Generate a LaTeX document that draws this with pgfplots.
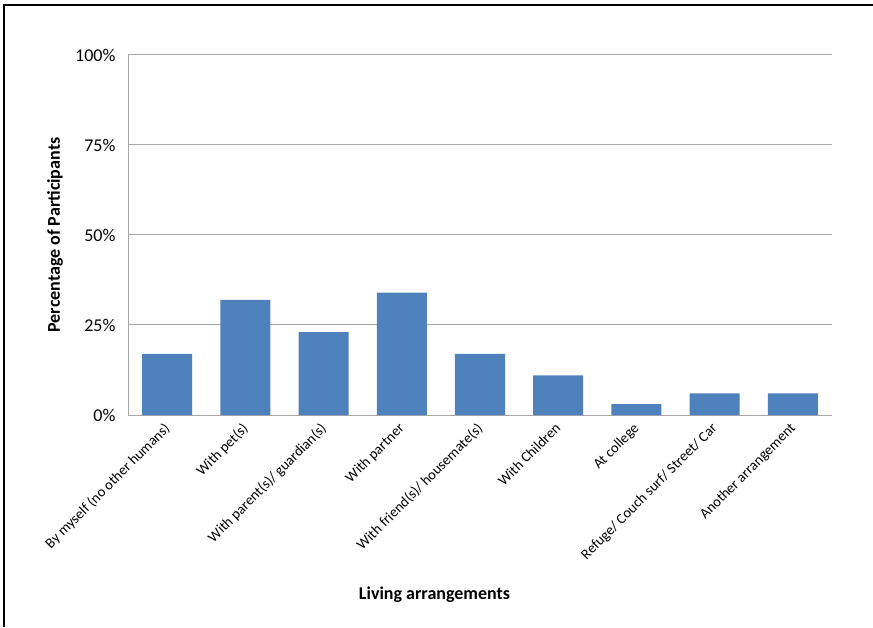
\documentclass[border=0pt]{standalone}
\usepackage{pgfplots}
\pgfplotsset{compat=1.18}
\usepackage{fontspec}
\setmainfont{Carlito}
\definecolor{barblue}{HTML}{4F81BD}
\definecolor{gridgray}{HTML}{A6A6A6}
\begin{document}
\begin{tikzpicture}
\path[use as bounding box] (0pt,0pt) rectangle (873pt,627pt);
\draw[line width=1.3pt, black] (4pt,0pt) -- (4pt,622pt) -- (873pt,622pt);
\begin{axis}[
  at={(128pt,212pt)}, anchor=south west,
  scale only axis, width=704pt, height=360pt,
  xmin=-0.5, xmax=8.5, ymin=0, ymax=100,
  axis x line*=bottom, axis y line*=left,
  axis line style={gridgray, line width=1pt},
  major tick length=0pt,
  ytick={0,25,50,75,100},
  yticklabel={\pgfmathprintnumber{\tick}\%},
  ymajorgrids, grid style={gridgray, line width=1pt},
  /pgf/number format/assume math mode=true,
  yticklabel style={font=\fontsize{18}{18}\selectfont, xshift=-9pt},
  xtick={0,...,8},
  xticklabels={By myself (no other humans), With pet(s), With parent(s)/ guardian(s), With partner, With friend(s)/ housemate(s), With Children, At college, Refuge/ Couch surf/ Street/ Car, Another arrangement},
  xticklabel style={font=\fontsize{14.5}{14.5}\selectfont, xshift=-4pt, yshift=-2pt, rotate=45, anchor=north east},
  ybar, bar width=50pt, bar shift=0pt,
]
\addplot[fill=barblue, draw=none] coordinates {(0,17) (1,32) (2,23) (3,34) (4,17) (5,11) (6,3) (7,6) (8,6)};
\end{axis}
\node[font=\fontsize{18}{18}\selectfont\bfseries] at (434.5pt,32pt) {Living arrangements};
\node[font=\fontsize{18}{18}\selectfont\bfseries, rotate=90] at (55pt,392pt) {Percentage of Participants};
\end{tikzpicture}
\end{document}
